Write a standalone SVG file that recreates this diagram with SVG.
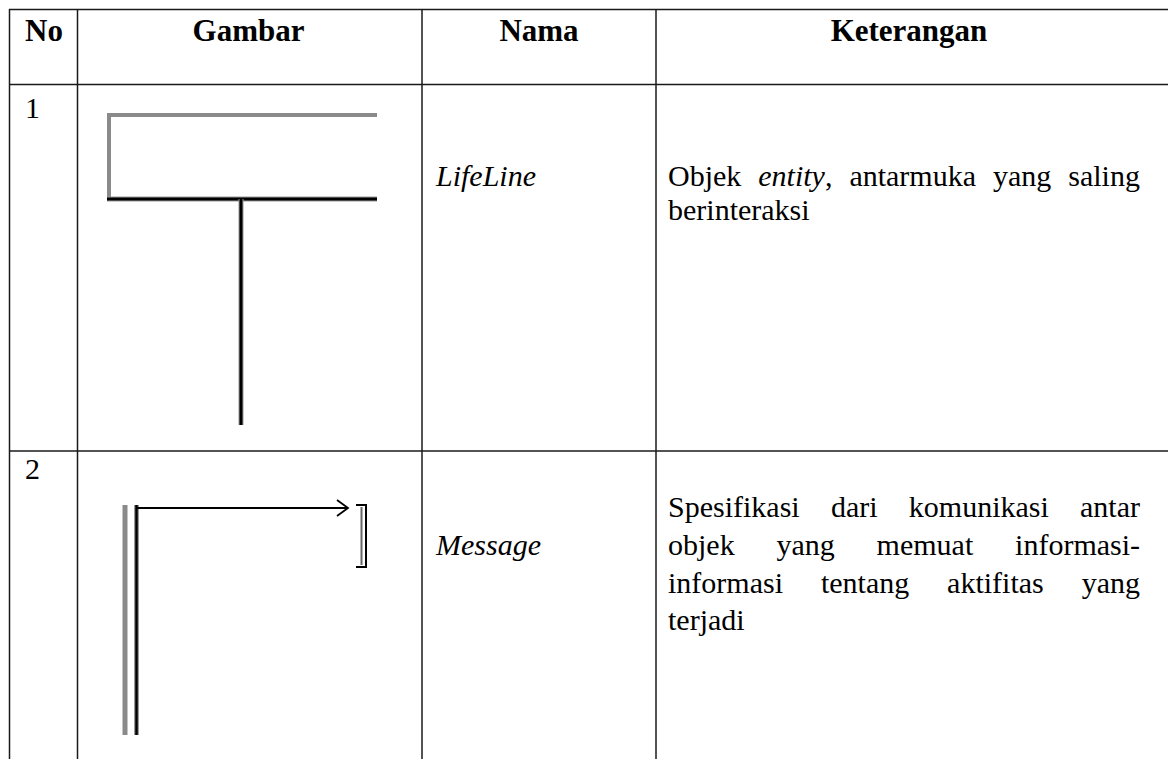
<svg xmlns="http://www.w3.org/2000/svg" width="1168" height="759" viewBox="0 0 1168 759">
  <style>
    .grid { stroke: #1a1a1a; stroke-width: 1.5; fill: none; }
    .hd { font-family: "Liberation Serif", "Times New Roman", serif; font-weight: bold; font-size: 31px; fill: #000; text-anchor: middle; }
    .tx { font-family: "Liberation Serif", "Times New Roman", serif; font-size: 30px; fill: #000; }
    .it { font-style: italic; }
    .soft { stroke: #8a8a8a; fill: none; }
    .ink { stroke: #000; fill: none; }
  </style>

  <rect width="1168" height="759" fill="#fff"/>

  <!-- table rules -->
  <g id="table-grid">
    <line class="grid" x1="9" y1="9.5" x2="1168" y2="9.5"/>
    <line class="grid" x1="9" y1="84.5" x2="1168" y2="84.5"/>
    <line class="grid" x1="9" y1="451" x2="1168" y2="451"/>
    <line class="grid" x1="9.5" y1="9" x2="9.5" y2="759"/>
    <line class="grid" x1="77.5" y1="9" x2="77.5" y2="759"/>
    <line class="grid" x1="422" y1="9" x2="422" y2="759"/>
    <line class="grid" x1="656" y1="9" x2="656" y2="759"/>
  </g>

  <!-- header row -->
  <g id="header">
    <text class="hd" x="44" y="41">No</text>
    <text class="hd" x="248.5" y="41">Gambar</text>
    <text class="hd" x="539" y="41">Nama</text>
    <text class="hd" x="909" y="41">Keterangan</text>
  </g>

  <!-- row 1: lifeline -->
  <g id="row-lifeline">
    <text class="tx" x="25" y="118">1</text>
    <g id="icon-lifeline">
      <line class="soft" x1="107" y1="115" x2="377" y2="115" stroke-width="4"/>
      <line class="soft" x1="109" y1="113" x2="109" y2="199" stroke-width="4"/>
      <line x1="107" y1="199" x2="377" y2="199" stroke="#9a9a9a" stroke-width="5"/>
      <line class="ink" x1="107" y1="199" x2="377" y2="199" stroke-width="3"/>
      <line x1="241" y1="199" x2="241" y2="425" stroke="#9a9a9a" stroke-width="5"/>
      <line class="ink" x1="241" y1="199" x2="241" y2="425" stroke-width="3"/>
    </g>
    <text class="tx it" x="436" y="186">LifeLine</text>
    <text class="tx" y="186">
      <tspan x="668">Objek</tspan>
      <tspan x="758.3" class="it">entity</tspan><tspan>,</tspan>
      <tspan x="849.4">antarmuka</tspan>
      <tspan x="993">yang</tspan>
      <tspan x="1068.3">saling</tspan>
    </text>
    <text class="tx" x="668" y="220">berinteraksi</text>
  </g>

  <!-- row 2: message -->
  <g id="row-message">
    <text class="tx" x="25" y="479">2</text>
    <g id="icon-message">
      <line class="soft" x1="125" y1="505" x2="125" y2="735" stroke-width="5"/>
      <line x1="136.5" y1="505" x2="136.5" y2="735" stroke="#9a9a9a" stroke-width="5"/>
      <line class="ink" x1="136.5" y1="505" x2="136.5" y2="735" stroke-width="2.5"/>
      <line class="ink" x1="137" y1="508" x2="348" y2="508" stroke-width="2"/>
      <polyline class="ink" points="337,500 348,508 337,516" stroke-width="1.8"/>
      <path class="ink" d="M356 505 H366 V567 H356" stroke-width="2"/>
      <line x1="361.5" y1="507" x2="361.5" y2="565" stroke="#666" stroke-width="2"/>
    </g>
    <text class="tx it" x="436" y="555">Message</text>
    <text class="tx" y="517">
      <tspan x="668">Spesifikasi</tspan>
      <tspan x="830.9">dari</tspan>
      <tspan x="908.8">komunikasi</tspan>
      <tspan x="1080">antar</tspan>
    </text>
    <text class="tx" y="555">
      <tspan x="668">objek</tspan>
      <tspan x="776.5">yang</tspan>
      <tspan x="876.6">memuat</tspan>
      <tspan x="1015.1">informasi-</tspan>
    </text>
    <text class="tx" y="593">
      <tspan x="668">informasi</tspan>
      <tspan x="820.9">tentang</tspan>
      <tspan x="947.1">aktifitas</tspan>
      <tspan x="1081.7">yang</tspan>
    </text>
    <text class="tx" x="668" y="630">terjadi</text>
  </g>
</svg>
